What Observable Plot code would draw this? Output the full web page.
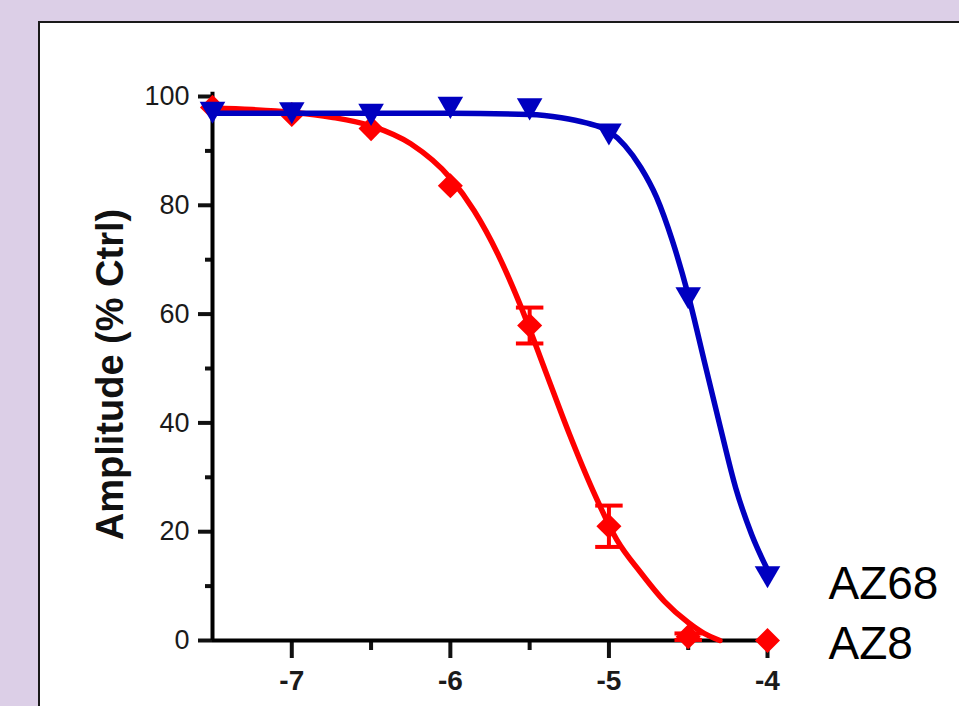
<!DOCTYPE html>
<html><head><meta charset="utf-8">
<script src="https://cdn.jsdelivr.net/npm/d3@7"></script>
<script src="https://cdn.jsdelivr.net/npm/@observablehq/plot@0.6"></script>
<style>
html,body{margin:0;padding:0;background:#dccfe7;width:959px;height:706px;overflow:hidden;}
#panel{position:absolute;left:38px;top:21px;width:921px;height:685px;background:#fff;border-left:2px solid #1a1a1a;border-top:2px solid #1a1a1a;box-sizing:border-box;}
#chart{position:absolute;left:0;top:0;}
</style></head><body><div id="panel"><div id="chart"></div></div>
<script>
// ---- data ----
const seriesNames = ["AZ68", "AZ8"];
const dose = [-7.5, -7, -6.5, -6, -5.5, -5, -4.5, -4];           // log [M]
const az68Mean = [97.7, 97.6, 97.3, 98.6, 98.3, 93.7, 63.6, 12.3];
const az8Mean  = [98.0, 96.7, 94.1, 83.6, 57.9, 21.0, 0.7, 0];
const az8Err   = [0, 0, 0, 0, 3.3, 3.8, 0.6, 0];
// fitted curves
const az68FitX = [-7.5, -6.0, -5.5, -5.3, -5.15, -5.0, -4.9, -4.8, -4.7, -4.6, -4.5, -4.4, -4.3, -4.2, -4.1, -4.0];
const az68FitY = [96.9, 96.9, 96.7, 96.1, 95.2, 93.6, 91.0, 87.0, 81.5, 73.5, 63.5, 51.5, 39.5, 28.0, 19.5, 13.0];
const az8FitX  = [-7.5, -7.25, -7.0, -6.75, -6.5, -6.25, -6.0, -5.85, -5.7, -5.55, -5.4, -5.25, -5.1, -4.95, -4.8, -4.65, -4.5, -4.4, -4.3];
const az8FitY  = [97.9, 97.6, 97.1, 96.2, 94.6, 91.3, 85.0, 79.0, 71.0, 61.0, 49.5, 38.0, 27.5, 18.5, 12.5, 7.2, 3.3, 1.3, 0];
const xMajorTicks = [-7, -6, -5, -4];
const xMinorTicks = [-6.5, -5.5, -4.5];
const yMajorTicks = [0, 20, 40, 60, 80, 100];
const yMinorTicks = [10, 30, 50, 70, 90];
const yTitle = "Amplitude (% Ctrl)";

// ---- tables ----
const az68Pts = dose.map((x, i) => ({x, y: az68Mean[i]}));
const az8Pts = dose.map((x, i) => ({x, y: az8Mean[i], e: az8Err[i]}));
const az8Bars = az8Pts.filter(d => d.e > 0);
const az68Fit = az68FitX.map((x, i) => ({x, y: az68FitY[i]}));
const az8Fit = az8FitX.map((x, i) => ({x, y: az8FitY[i]}));
const caps = az8Bars.flatMap(d => [{x: d.x, y: d.y - d.e}, {x: d.x, y: d.y + d.e}]);
const lastIdx = dose.length - 1;

const BLUE = "#0000c0", RED = "#ff0000";
const capSymbol = {draw(ctx, size) { const w = Math.sqrt(size); ctx.moveTo(-w / 2, 0); ctx.lineTo(w / 2, 0); }};
const font = "Arial, 'Liberation Sans', sans-serif";

const chart = Plot.plot({
  width: 919, height: 683,
  marginLeft: 172, marginRight: 192, marginTop: 73, marginBottom: 66,
  style: {fontFamily: font, background: "white", overflow: "visible", color: "#111"},
  x: {domain: [-7.5, -4]},
  y: {domain: [0, 100]},
  marks: [
    Plot.axisY(yMajorTicks, {tickSize: 14, tickPadding: 9, strokeWidth: 4, fontSize: 27, label: null, fill: "#1a1a1a"}),
    Plot.axisY(yMinorTicks, {tickSize: 7, strokeWidth: 4, tickFormat: () => "", label: null}),
    Plot.axisX(xMajorTicks, {tickSize: 18, tickPadding: 12, strokeWidth: 4, fontSize: 28, fontWeight: "bold", label: null, tickFormat: d => String(d), fill: "#1a1a1a"}),
    Plot.axisX(xMinorTicks, {tickSize: 10, strokeWidth: 4, tickFormat: () => "", label: null}),
    Plot.ruleY([0], {x1: -7.5, x2: -4, stroke: "#000", strokeWidth: 4}),
    Plot.ruleX([-7.5], {y1: 0, y2: 100.8, stroke: "#000", strokeWidth: 4}),
    Plot.text([yTitle], {frameAnchor: "left", textAnchor: "middle", rotate: -90, dx: -102, dy: 6, fontSize: 38, fontWeight: "bold", fill: "#111"}),
    // AZ8 (red)
    Plot.line(az8Fit, {x: "x", y: "y", stroke: RED, strokeWidth: 5.5, curve: "monotone-x"}),
    Plot.ruleX(az8Bars, {x: "x", y1: d => d.y - d.e, y2: d => d.y + d.e, stroke: RED, strokeWidth: 4}),
    Plot.dot(caps, {x: "x", y: "y", symbol: capSymbol, r: 15.5, stroke: RED, strokeWidth: 4, fill: "none"}),
    Plot.dot(az8Pts, {x: "x", y: "y", symbol: "square", rotate: 45, r: 10, fill: RED, stroke: "none"}),
    // AZ68 (blue)
    Plot.line(az68Fit, {x: "x", y: "y", stroke: BLUE, strokeWidth: 5.5, curve: "monotone-x"}),
    Plot.dot(az68Pts, {x: "x", y: "y", symbol: "triangle", rotate: 180, r: 9.5, fill: BLUE, stroke: "none"}),
    // series labels
    Plot.text([{x: dose[lastIdx], y: az68Mean[lastIdx], t: seriesNames[0]}], {x: "x", y: "y", text: "t", dx: 61, dy: 11, textAnchor: "start", fontSize: 46, fill: "#000"}),
    Plot.text([{x: dose[lastIdx], y: az8Mean[lastIdx], t: seriesNames[1]}], {x: "x", y: "y", text: "t", dx: 61, dy: 4, textAnchor: "start", fontSize: 46, fill: "#000"})
  ]
});
document.getElementById("chart").appendChild(chart);
</script></body></html>
